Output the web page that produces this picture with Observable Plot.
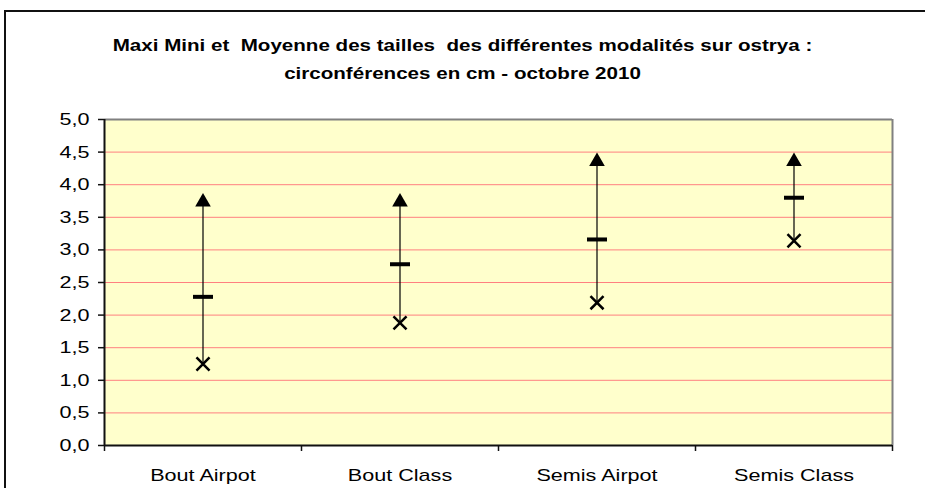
<!DOCTYPE html>
<html><head><meta charset="utf-8">
<script src="https://cdn.jsdelivr.net/npm/d3@7"></script>
<script src="https://cdn.jsdelivr.net/npm/@observablehq/plot@0.6"></script>
<style>
body{margin:0;background:#fff;}
#wrap{position:relative;width:925px;height:488px;overflow:hidden;font-family:"Liberation Sans",Arial,sans-serif;}
#border{position:absolute;left:4px;top:10px;width:1000px;height:1000px;border:2px solid #111;box-sizing:border-box;}
#chart{position:absolute;left:0;top:0;}
#title{position:absolute;left:0;top:32px;width:925px;text-align:center;font-weight:bold;font-size:17px;line-height:28px;white-space:pre;color:#000;}
#title div{transform:scaleX(1.21);transform-origin:center;}
</style></head><body>
<div id="wrap"><div id="border"></div><div id="chart"></div>
<div id="title"><div>Maxi Mini et  Moyenne des tailles  des différentes modalités sur ostrya :</div><div>circonférences en cm - octobre 2010</div></div>
</div>
<script>
const categories = ["Bout Airpot", "Bout Class", "Semis Airpot", "Semis Class"];
const maxi = [3.77, 3.77, 4.39, 4.39];
const moyenne = [2.28, 2.78, 3.16, 3.80];
const mini = [1.25, 1.88, 2.19, 3.14];
const yTicks = [0, 0.5, 1, 1.5, 2, 2.5, 3, 3.5, 4, 4.5, 5];
const gridValues = [0.5, 1, 1.5, 2, 2.5, 3, 3.5, 4, 4.5];

const data = categories.map((c, i) => ({i, cat: c, max: maxi[i], mean: moyenne[i], min: mini[i]}));
const boundaries = d3.range(0, categories.length + 1);
const centers = categories.map((c, i) => i + 0.5);

const dashSymbol = {draw(ctx) { ctx.rect(-10, -2, 20, 4); }};
const S = 1.27;

const chart = Plot.plot({
  width: 925, height: 488,
  marginLeft: 104, marginRight: 33, marginTop: 119, marginBottom: 43,
  style: {fontFamily: "Liberation Sans, Arial, sans-serif", fontSize: "17px", background: "transparent", color: "#000"},
  x: {domain: [0, categories.length], axis: null},
  y: {domain: [0, 5], axis: null},
  marks: [
    Plot.frame({fill: "#FFFFCC", stroke: null}),
    Plot.ruleY(gridValues, {stroke: "#FF8080", strokeWidth: 1}),
    Plot.ruleY([5], {stroke: "#808080", strokeWidth: 2}),
    Plot.ruleX([categories.length], {stroke: "#808080", strokeWidth: 2}),
    Plot.ruleY([0], {stroke: "#111", strokeWidth: 2}),
    Plot.ruleX([0], {stroke: "#111", strokeWidth: 2}),
    Plot.axisY({ticks: yTicks, tickSize: 6, tickPadding: 9, tickFormat: d => d.toFixed(1).replace(".", ","), stroke: "#111", strokeWidth: 1.5, fontSize: 17}),
    Plot.axisX({ticks: boundaries, tickSize: 6, tickFormat: () => "", stroke: "#111", strokeWidth: 1.5}),
    Plot.axisX({ticks: centers, tickSize: 0, tickPadding: 23, tickFormat: d => categories[Math.floor(d)], fontSize: 17}),
    Plot.ruleX(data, {x: d => d.i + 0.5, y1: "min", y2: "max", stroke: "#000", strokeWidth: 1.2}),
    Plot.dot(data, {x: d => d.i + 0.5, y: "max", symbol: "triangle", r: 5.8, fill: "#000", stroke: null, dy: 2.25}),
    Plot.dot(data, {x: d => d.i + 0.5, y: "mean", symbol: dashSymbol, fill: "#000", stroke: null}),
    Plot.dot(data, {x: d => d.i + 0.5, y: "min", symbol: "times", r: 6, stroke: "#000", strokeWidth: 2.5, fill: "none"})
  ]
});
document.getElementById("chart").appendChild(chart);
chart.querySelectorAll("text").forEach(t => {
  const len = t.getComputedTextLength();
  if (len > 0) { t.setAttribute("textLength", len * S); t.setAttribute("lengthAdjust", "spacingAndGlyphs"); }
});
</script>
</body></html>
